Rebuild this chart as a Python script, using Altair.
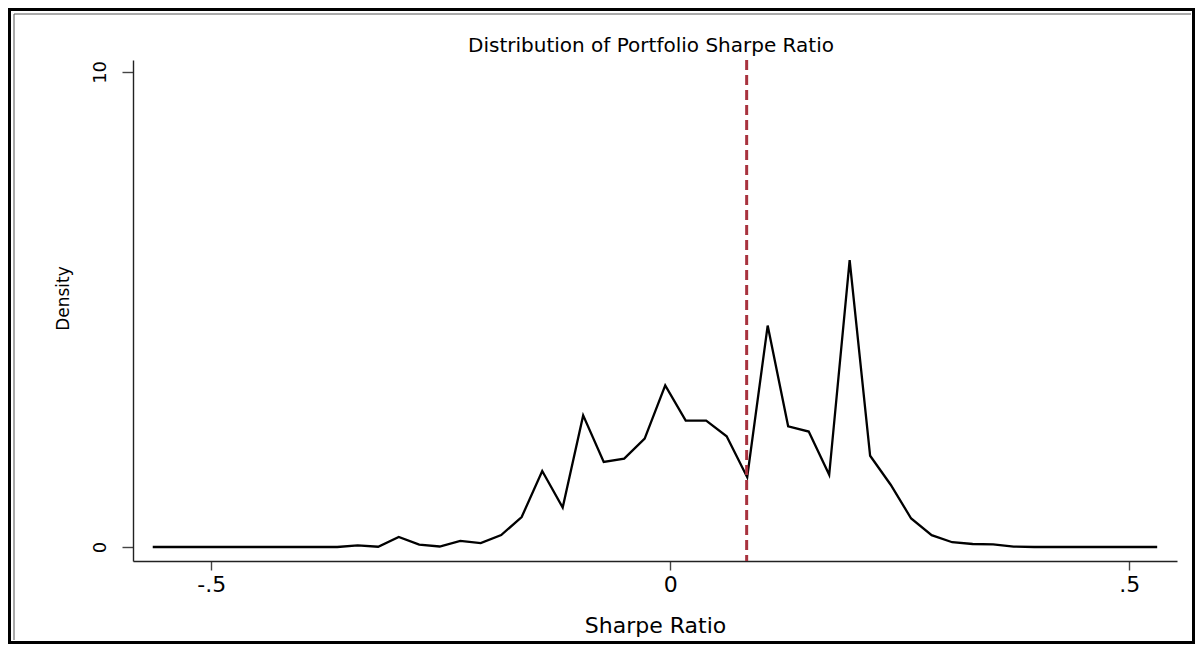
import altair as alt
import pandas as pd

# Kernel-density grid (50 points)
sharpe = [
    -0.5638, -0.5415, -0.5191, -0.4968, -0.4745, -0.4521, -0.4298, -0.4075,
    -0.3852, -0.3628, -0.3405, -0.3182, -0.2958, -0.2735, -0.2512, -0.2288,
    -0.2065, -0.1842, -0.1619, -0.1395, -0.1172, -0.0949, -0.0725, -0.0502,
    -0.0279, -0.0055, 0.0168, 0.0391, 0.0614, 0.0838, 0.1061, 0.1284,
    0.1508, 0.1731, 0.1954, 0.2177, 0.2401, 0.2624, 0.2847, 0.3071,
    0.3294, 0.3517, 0.3741, 0.3964, 0.4187, 0.4410, 0.4634, 0.4857,
    0.5080, 0.5304,
]
density = [
    0.0, 0.0, 0.0, 0.0, 0.0, 0.0, 0.0, 0.0,
    0.0, 0.0, 0.035, 0.005, 0.21, 0.05, 0.01, 0.13,
    0.08, 0.25, 0.63, 1.60, 0.83, 2.77, 1.79, 1.86,
    2.28, 3.40, 2.66, 2.66, 2.33, 1.47, 4.66, 2.54,
    2.43, 1.52, 6.04, 1.92, 1.31, 0.60, 0.25, 0.10,
    0.063, 0.056, 0.007, 0.0, 0.0, 0.0, 0.0, 0.0,
    0.0, 0.0,
]
mean_sharpe = [0.0832]

x_ticks = [-0.5, 0, 0.5]
x_tick_labels = ["-.5", "0", ".5"]
y_ticks = [0, 10]
title_text = "Distribution of Portfolio Sharpe Ratio"

FONT = "DejaVu Sans"

df = pd.DataFrame({"sharpe": sharpe, "density": density})
df_mean = pd.DataFrame({"m": mean_sharpe})
df_one = pd.DataFrame({"k": [0]})

# label expression built from the tick lists
expr = "''"
for v, lab in zip(reversed(x_ticks), reversed(x_tick_labels)):
    expr = f"(abs(datum.value - ({v})) < 1e-9 ? '{lab}' : {expr})"

x_scale = alt.Scale(domain=[-0.5853, 0.552], nice=False, zero=False)
y_scale = alt.Scale(domain=[-0.295, 10.25], nice=False, zero=False)

x_axis = alt.Axis(
    values=x_ticks, labelExpr=expr, grid=False, title="Sharpe Ratio",
    domainColor="#222222", domainWidth=1.4, tickColor="#444444", tickWidth=1.4,
    tickSize=9, labelFontSize=22, labelPadding=4, labelFont=FONT,
    titleFont=FONT, titleFontSize=22, titleFontWeight="normal", titlePadding=20,
    titleColor="black", labelColor="black",
)
y_axis = alt.Axis(
    values=y_ticks, grid=False, title="Density", labelAngle=-90,
    labelAlign="center", labelBaseline="bottom",
    domainColor="#222222", domainWidth=1.4, tickColor="#444444", tickWidth=1.4,
    tickSize=11, labelFontSize=18, labelPadding=13, labelFont=FONT,
    titleFont=FONT, titleFontSize=17, titleFontWeight="normal", titlePadding=19,
    titleColor="black", labelColor="black", titleY=238,
)

line = alt.Chart(df).mark_line(color="black", strokeWidth=2.3).encode(
    x=alt.X("sharpe:Q", scale=x_scale, axis=x_axis),
    y=alt.Y("density:Q", scale=y_scale, axis=y_axis),
)

rule = alt.Chart(df_mean).mark_rule(
    color="#a8323e", strokeWidth=3, strokeDash=[10, 5]
).encode(x=alt.X("m:Q", scale=x_scale))

title = alt.Chart(df_one).mark_text(
    text=title_text, font=FONT, fontSize=20, color="black",
    align="center", baseline="alphabetic",
).encode(x=alt.value(518), y=alt.value(-8))

# graph frame: thick black outer border, thin grey inner line at top and left
outer = alt.Chart(df_one).mark_rect(
    fillOpacity=0, stroke="black", strokeWidth=3
).encode(
    x=alt.value(-123.5), x2=alt.value(1060.5),
    y=alt.value(-50.5), y2=alt.value(582.5),
)
inner_top = alt.Chart(df_one).mark_rule(color="#555555", strokeWidth=1).encode(
    x=alt.value(-119), x2=alt.value(1058), y=alt.value(-46),
)
inner_left = alt.Chart(df_one).mark_rule(color="#555555", strokeWidth=1).encode(
    x=alt.value(-119), y=alt.value(-46), y2=alt.value(580),
)

chart = alt.layer(outer, inner_top, inner_left, title, line, rule).properties(
    width=1044,
    height=501,
    background="white",
    autosize=alt.AutoSizeParams(type="none"),
    padding={"left": 125, "top": 52, "right": 18, "bottom": 83},
).configure_view(strokeWidth=0)

chart.save("out.html", embed_options={"renderer": "svg", "actions": False})
